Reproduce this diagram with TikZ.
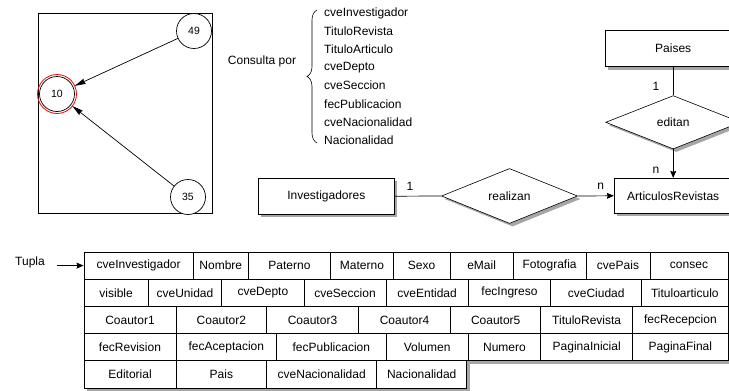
\documentclass[tikz,border=0pt]{standalone}
\usepackage{fontspec}
\setmainfont{Liberation Sans}
\usetikzlibrary{shapes.geometric,arrows.meta,shadows,decorations.pathreplacing}

% one table cell: name, left x, right x, centre y, text
\newcommand\tabcell[5]{%
  \node[cell, minimum width={(#3-#2)*1pt}] (#1) at ({(#2+#3)/2}, #4) {#5};}

\begin{document}
\begin{tikzpicture}[x=1pt,y=-1pt,
  txt/.style={font=\fontsize{12}{14}\selectfont, text=black},
  boxshadow/.style={drop shadow={shadow xshift=3pt,shadow yshift=-3pt,fill=black!35,opacity=1}},
  cell/.style={txt, draw=black, line width=1pt, fill=white, boxshadow, inner sep=0pt, minimum height=27.2pt},
  entity/.style={txt, draw=black, line width=0.8pt, fill=white, boxshadow, inner sep=0pt, minimum height=36pt},
  rel/.style={txt, diamond, draw=black, line width=0.6pt, fill=white, boxshadow, inner sep=0pt, aspect=2.5},
  vert/.style={circle, draw=black, line width=0.7pt, fill=white, minimum size=35pt, inner sep=0pt,
    font=\fontsize{10.5}{12}\selectfont},
  arr/.style={-{Stealth[length=7pt,width=6pt,inset=1pt]}, line width=0.7pt},
  longarr/.style={-{Stealth[length=11pt,width=5.5pt,inset=1pt]}, line width=0.7pt},
  link/.style={line width=0.7pt},
]
\useasboundingbox (0,0) rectangle (729,391);
\clip (0,0) rectangle (729,391);

% ---- small tree of keys ----
\draw[line width=0.7pt] (38,13) rectangle (212,213);
\node[vert] (v49) at (194,31) {49};
\node[vert, outer sep=2pt] (v10) at (57,94) {10};
\draw[red, line width=0.8pt] (v10.center) circle (19.5pt);
\node[vert] (v35) at (188,197) {35};
\draw[longarr] (v49) -- (v10);
\draw[longarr] (v35) -- (v10);

% ---- query fields ----
\node[txt] (consulta) at (262,61) {Consulta por};
\foreach \t [count=\i] in {cveInvestigador,TituloRevista,TituloArticulo,cveDepto,cveSeccion,fecPublicacion,cveNacionalidad,Nacionalidad}
  \node[txt, anchor=west, inner sep=0pt] (q\i) at (324,{13.3+18.1*(\i-1)}) {\t};
\draw[decorate, decoration={brace, amplitude=10pt}, line width=0.6pt] (317,143) -- (317,10);

% ---- entity-relationship part ----
\node[entity, minimum width=136pt] (inv) at (326.3,196.2) {Investigadores};
\node[entity, minimum width=118pt, minimum height=35pt] (art) at (673.2,195.8) {ArticulosRevistas};
\node[entity, minimum width=136pt] (pai) at (673.2,48.7) {Paises};
\node[rel, minimum width=136pt, minimum height=55pt] (rea) at (509.5,196) {realizan};
\node[rel, minimum width=135pt, minimum height=53.4pt] (edi) at (673.2,122.3) {editan};
\draw[link] (inv.east) -- (rea.west);
\draw[arr] (rea.east) -- (art.west);
\draw[link] (pai.south) -- (edi.north);
\draw[arr] (edi.south) -- (art.north);
\node[txt] (m1) at (410,186.7) {1};
\node[txt] (m2) at (600.7,186) {n};
\node[txt] (m3) at (656,86.7) {1};
\node[txt] (m4) at (656,170) {n};

% ---- tuple layout ----
\node[txt] (tupla) at (30,262) {Tupla};

\tabcell{c11}{84}{193.3}{265.6}{cveInvestigador}
\tabcell{c12}{193.3}{248.3}{265.6}{Nombre}
\tabcell{c13}{248.3}{330.7}{265.6}{Paterno}
\tabcell{c14}{330.7}{393.3}{265.6}{Materno}
\tabcell{c15}{393.3}{450}{265.6}{Sexo}
\tabcell{c16}{450}{513.3}{265.6}{eMail}
\tabcell{c17}{513.3}{586}{265.6}{Fotografia}
\tabcell{c18}{586}{650}{265.6}{cvePais}
\tabcell{c19}{650}{728}{265.6}{consec}

\tabcell{c21}{84}{148.3}{292.8}{visible}
\tabcell{c22}{148.3}{221.7}{292.8}{cveUnidad}
\tabcell{c23}{221.7}{304}{292.8}{cveDepto}
\tabcell{c24}{304}{386}{292.8}{cveSeccion}
\tabcell{c25}{386}{468.3}{292.8}{cveEntidad}
\tabcell{c26}{468.3}{550.7}{292.8}{fecIngreso}
\tabcell{c27}{550.7}{641.7}{292.8}{cveCiudad}
\tabcell{c28}{641.7}{728}{292.8}{Tituloarticulo}

\tabcell{c31}{84}{176}{320}{Coautor1}
\tabcell{c32}{176}{266.7}{320}{Coautor2}
\tabcell{c33}{266.7}{358.3}{320}{Coautor3}
\tabcell{c34}{358.3}{450.7}{320}{Coautor4}
\tabcell{c35}{450.7}{540.7}{320}{Coautor5}
\tabcell{c36}{540.7}{632.7}{320}{TituloRevista}
\tabcell{c37}{632.7}{728}{320}{fecRecepcion}

\tabcell{c41}{84}{176}{347.2}{fecRevision}
\tabcell{c42}{176}{276.7}{347.2}{fecAceptacion}
\tabcell{c43}{276.7}{386}{347.2}{fecPublicacion}
\tabcell{c44}{386}{468.3}{347.2}{Volumen}
\tabcell{c45}{468.3}{540.7}{347.2}{Numero}
\tabcell{c46}{540.7}{632.7}{347.2}{PaginaInicial}
\tabcell{c47}{632.7}{728}{347.2}{PaginaFinal}

\tabcell{c51}{84}{176}{374.4}{Editorial}
\tabcell{c52}{176}{266.7}{374.4}{Pais}
\tabcell{c53}{266.7}{376.7}{374.4}{cveNacionalidad}
\tabcell{c54}{376.7}{466.7}{374.4}{Nacionalidad}

\coordinate (tstart) at (57,265.6);
\draw[arr] (tstart) -- (c11.west);
\end{tikzpicture}
\end{document}
